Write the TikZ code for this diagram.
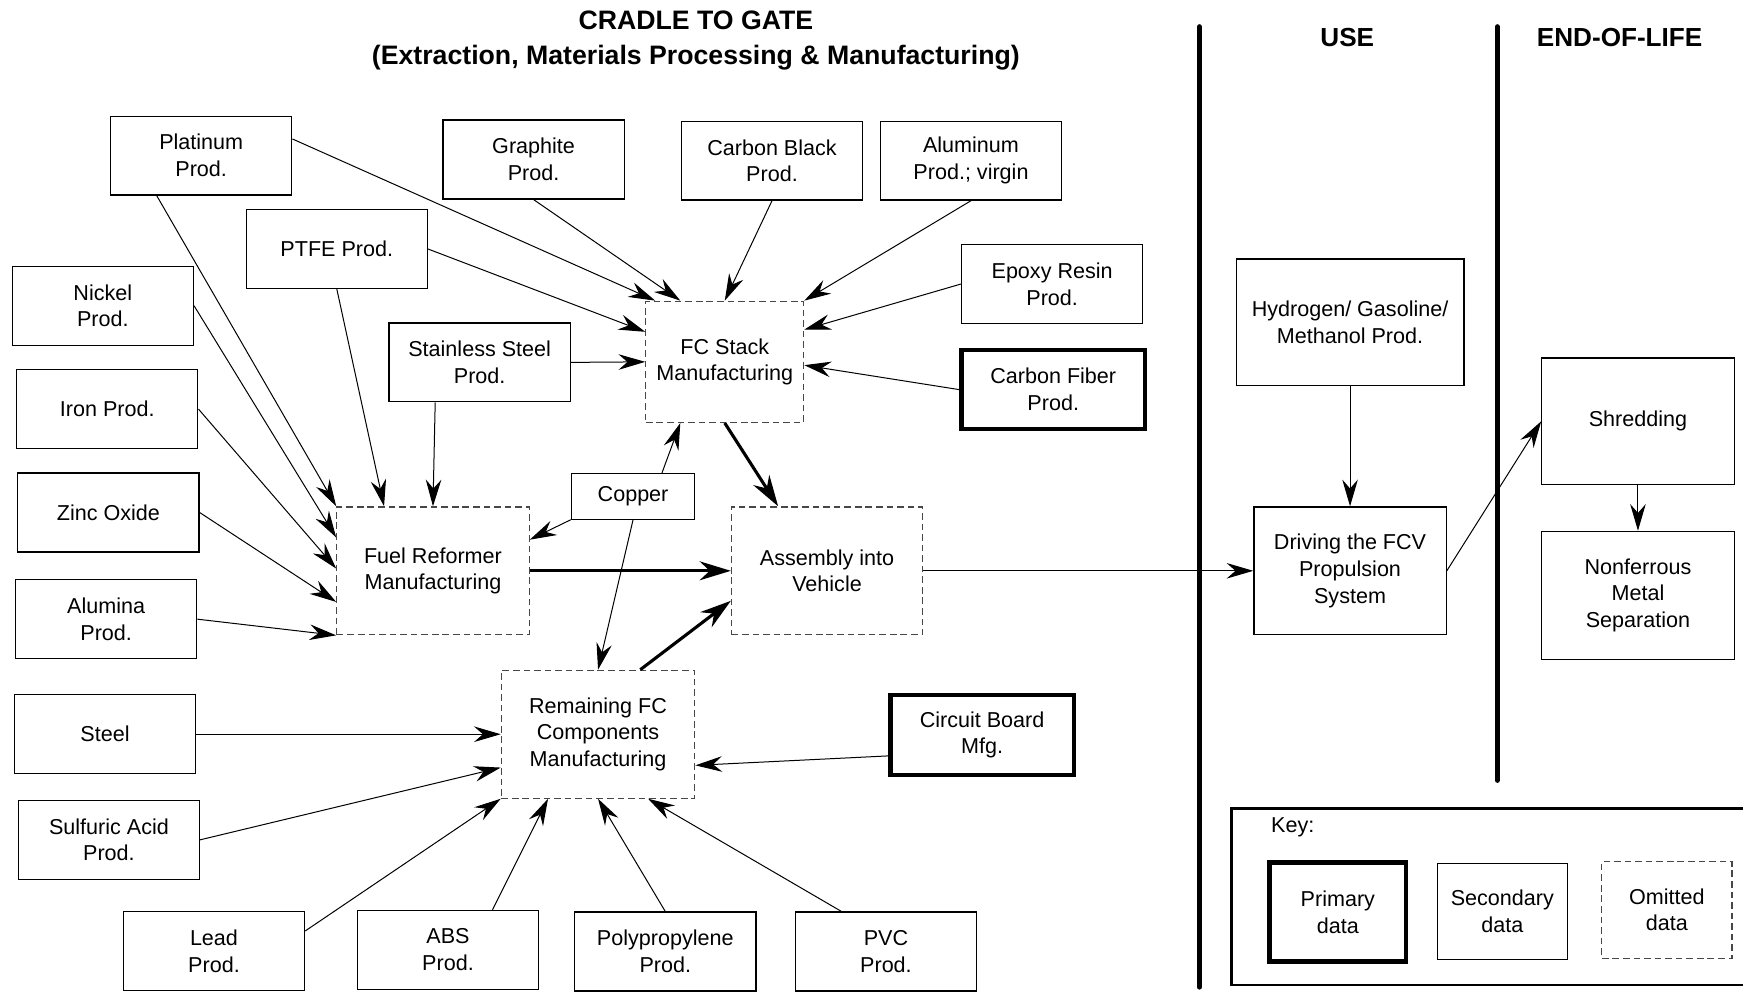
\documentclass[tikz,border=0pt]{standalone}
\usepackage{fontspec}
\setmainfont{Liberation Sans}
\usetikzlibrary{arrows.meta,calc}
\begin{document}
\begin{tikzpicture}[x=1pt,y=-1pt]
\tikzset{
  lbl/.style={font=\fontsize{19.4}{24}\selectfont, align=center, inner sep=0pt},
  src/.style={lbl, draw, line width=1.1pt, minimum width=163pt, minimum height=71pt},
  prim/.style={src, line width=4pt},
  omit/.style={lbl, draw=black!72, line width=1.1pt, dash pattern=on 6pt off 3.5pt},
  flow/.style={line width=0.9pt, -{Stealth[length=24pt,width=14pt,inset=8pt]}},
  mainflow/.style={line width=2.8pt, -{Stealth[length=28pt,width=17pt,inset=9pt]}},
  phase/.style={line width=4.5pt, line cap=round},
  head/.style={font=\fontsize{24}{31}\selectfont\bfseries, align=center, inner sep=0pt},
}
\useasboundingbox (0,0) rectangle (1568,897);

% headings
\node[head] (title) at (626,36.5) {CRADLE TO GATE\\(Extraction, Materials Processing \& Manufacturing)};
\node[head, font=\fontsize{23.5}{31}\selectfont\bfseries] (use) at (1212,34) {USE};
\node[head, font=\fontsize{23.5}{31}\selectfont\bfseries] (eol) at (1457,34) {END-OF-LIFE};

% phase separators
\draw[phase] (1079,24) -- (1079,888);
\draw[phase] (1347,24) -- (1347,702);

% material inputs
\node[src] (plat) at (181,140) {Platinum\\Prod.};
\node[src] (graph) at (480,143.5) {Graphite\\Prod.};
\node[src] (cblack) at (694.5,144.5) {Carbon Black\\Prod.};
\node[src] (alu) at (873.5,144.5) {Aluminum\\Prod.; virgin};
\node[src] (ptfe) at (303,224) {PTFE Prod.};
\node[src] (epoxy) at (946.5,255.5) {Epoxy Resin\\Prod.};
\node[src] (nick) at (92.5,275) {Nickel\\Prod.};
\node[src] (sst) at (431.5,326) {Stainless Steel\\Prod.};
\node[prim, minimum width=165pt] (cfib) at (947.5,350.5) {Carbon Fiber\\Prod.};
\node[src] (iron) at (96.5,368) {Iron Prod.};
\node[src] (zinc) at (97.5,461) {Zinc Oxide};
\node[src, minimum width=111pt, minimum height=41pt] (copper) at (569.5,446.5) {Copper};
\node[src] (alum) at (95.5,557) {Alumina\\Prod.};
\node[src] (steel) at (94.5,660.5) {Steel};
\node[prim, minimum width=165pt, minimum height=72pt] (circ) at (883.5,661) {Circuit Board\\Mfg.};
\node[src] (sulf) at (98,755.5) {Sulfuric Acid\\Prod.};
\node[src] (lead) at (192.5,855.5) {Lead\\Prod.};
\node[src] (abs) at (403,854.5) {ABS\\Prod.};
\node[src] (pp) at (598.5,856) {Polypropylene\\Prod.};
\node[src] (pvc) at (797,856) {PVC\\Prod.};

% manufacturing steps
\node[omit, minimum width=142pt, minimum height=109pt] (fcs) at (652,325.5) {FC Stack\\Manufacturing};
\node[omit, minimum width=173pt, minimum height=115pt] (fr) at (389.5,513.5) {Fuel Reformer\\Manufacturing};
\node[omit, minimum width=172pt, minimum height=115pt] (asm) at (744,513.5) {Assembly into\\Vehicle};
\node[omit, minimum width=174pt, minimum height=115pt] (rem) at (538,660.5) {Remaining FC\\Components\\Manufacturing};

% use and end of life
\node[src, minimum width=205pt, minimum height=114pt] (hyd) at (1214.5,290) {Hydrogen/ Gasoline/\\Methanol Prod.};
\node[src, minimum width=173pt, minimum height=115pt] (drive) at (1214.5,513.5) {Driving the FCV\\Propulsion\\System};
\node[src, minimum width=173pt, minimum height=114pt] (shred) at (1473.5,379) {Shredding};
\node[src, minimum width=173pt, minimum height=115pt] (nonf) at (1473.5,535.5) {Nonferrous\\Metal\\Separation};

% key
\draw[line width=2.5pt] (1108,727) rectangle (1600,886);
\node[lbl] (keyl) at (1163,744) {Key:};
\node[prim, minimum width=123pt, minimum height=89pt] (kprim) at (1203.5,820.5) {Primary\\data};
\node[src, minimum width=117pt, minimum height=86pt] (ksec) at (1351.5,820) {Secondary\\data};
\node[omit, minimum width=117pt, minimum height=87pt] (komit) at (1499.5,818.5) {Omitted\\data};

% flows into FC stack
\draw[flow] ([yshift=15pt]plat.east) -- ([xshift=9pt]fcs.north west);
\draw[flow] (graph.south) -- ([xshift=-40pt]fcs.north);
\draw[flow] (cblack.south) -- (fcs.north);
\draw[flow] (alu.south) -- (fcs.north east);
\draw[flow] (ptfe.east) -- ([yshift=27pt]fcs.west);
\draw[flow] (epoxy.west) -- ([yshift=29pt]fcs.east);
\draw[flow] (sst.east) -- (fcs.west);
\draw[flow] (cfib.west) -- ([yshift=-3pt]fcs.east);
\draw[flow] ([xshift=26pt]copper.north) -- ([xshift=-40pt]fcs.south);

% flows into fuel reformer
\draw[flow] ([xshift=-40pt]plat.south) -- (fr.north west);
\draw[flow] (nick.east) -- ([yshift=30pt]fr.west);
\draw[flow] (iron.east) -- ([yshift=2pt]fr.west);
\draw[flow] (zinc.east) -- ([yshift=-28pt]fr.west);
\draw[flow] (alum.east) -- (fr.south west);
\draw[flow] (ptfe.south) -- ([xshift=-44pt]fr.north);
\draw[flow] ([xshift=-40pt]sst.south) -- (fr.north);
\draw[flow] (copper.south west) -- ([yshift=28pt]fr.east);

% flows into remaining components
\draw[flow] (copper.south) -- (rem.north);
\draw[flow] (steel.east) -- (rem.west);
\draw[flow] (sulf.east) -- ([yshift=-30pt]rem.west);
\draw[flow] ([yshift=-19pt]circ.west) -- ([yshift=-28pt]rem.east);
\draw[flow] ([yshift=18pt]lead.east) -- (rem.south west);
\draw[flow] ([xshift=40pt]abs.north) -- ([xshift=-45pt]rem.south);
\draw[flow] (pp.north) -- (rem.south);
\draw[flow] ([xshift=-40pt]pvc.north) -- ([xshift=45pt]rem.south);

% main assembly flows
\draw[mainflow] (fcs.south) -- ([xshift=-44pt]asm.north);
\draw[mainflow] (fr.east) -- (asm.west);
\draw[mainflow] ([xshift=38pt]rem.north) -- ([yshift=-27pt]asm.west);

% use and end of life flows
\draw[flow] (asm.east) -- (drive.west);
\draw[flow] (hyd.south) -- (drive.north);
\draw[flow] (drive.east) -- (shred.west);
\draw[flow] (shred.south) -- (nonf.north);
\end{tikzpicture}
\end{document}
